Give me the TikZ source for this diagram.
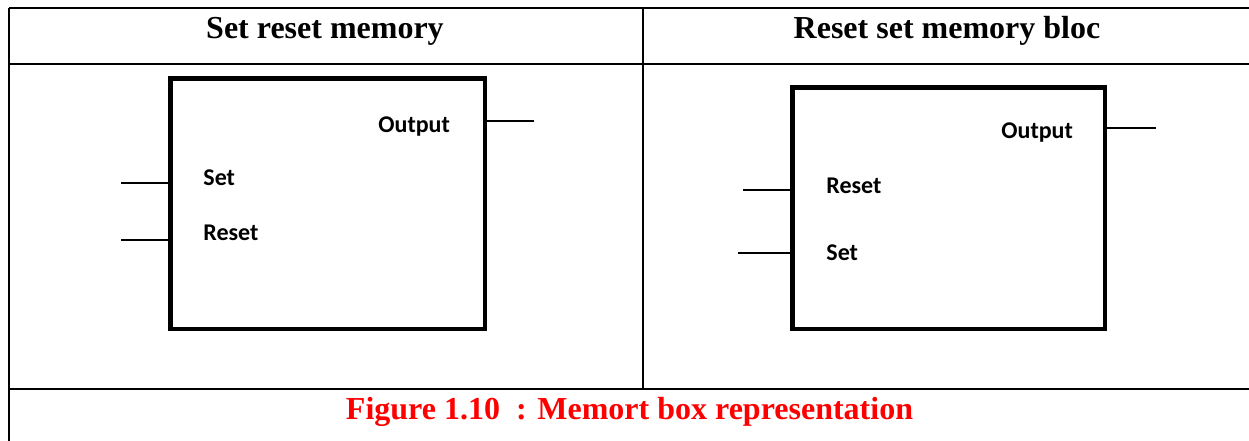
\documentclass[tikz,border=0pt]{standalone}
\usepackage{fontspec}
\setmainfont{Liberation Serif}
\newfontfamily\labelfont{Carlito}
\begin{document}
\begin{tikzpicture}[x=0.5pt,y=-0.5pt,
  rule/.style={line width=1pt,black},
  memblock/.style={draw,line width=2.25pt,rectangle,inner sep=0pt,outer sep=0pt},
  pin/.style={line width=0.75pt},
  pinlabel/.style={anchor=base west,inner sep=0pt,font=\labelfont\bfseries\fontsize{12}{14}\selectfont},
  headtext/.style={anchor=base,inner sep=0pt,font=\bfseries\fontsize{16}{19}\selectfont},
  captext/.style={anchor=base,inner sep=0pt,text=red,font=\bfseries\fontsize{16}{19}\selectfont}]
\useasboundingbox (0,0) rectangle (1249,440);
\fill[white] (0,0) rectangle (1249,440);

% table rules
\draw[rule] (9,8) -- (1252,8);
\draw[rule] (9,64) -- (1252,64);
\draw[rule] (9,389) -- (1252,389);
\draw[rule] (9,8) -- (9,441);
\draw[rule] (643,8) -- (643,389);

% column headings
\node[headtext] (headA) at (325,38) {Set reset memory};
\node[headtext] (headB) at (947,38) {Reset set memory bloc};

% set-reset block
\node[memblock,minimum width=157.25pt,minimum height=125.25pt] (boxA) at (327.5,203.5) {};
\coordinate (aSet) at (121,183);
\coordinate (aReset) at (121,240);
\coordinate (aOut) at (534,121);
\draw[pin] (aSet) -- (aSet -| boxA.west);
\draw[pin] (aReset) -- (aReset -| boxA.west);
\draw[pin] (aOut -| boxA.east) -- (aOut);
\node[pinlabel] (aOutLbl) at (378,132) {Output};
\node[pinlabel] (aSetLbl) at (203,185) {Set};
\node[pinlabel] (aResetLbl) at (203,240) {Reset};

% reset-set block
\node[memblock,minimum width=156.25pt,minimum height=120.75pt] (boxB) at (948.5,208) {};
\coordinate (bReset) at (743,190);
\coordinate (bSet) at (738,253);
\coordinate (bOut) at (1156,128);
\draw[pin] (bReset) -- (bReset -| boxB.west);
\draw[pin] (bSet) -- (bSet -| boxB.west);
\draw[pin] (bOut -| boxB.east) -- (bOut);
\node[pinlabel] (bOutLbl) at (1001,138) {Output};
\node[pinlabel] (bResetLbl) at (826,193) {Reset};
\node[pinlabel] (bSetLbl) at (826,260) {Set};

% caption
\node[captext] (caption) at (629.5,419) {Figure 1.10\ \ : Memort box representation};
\end{tikzpicture}
\end{document}
